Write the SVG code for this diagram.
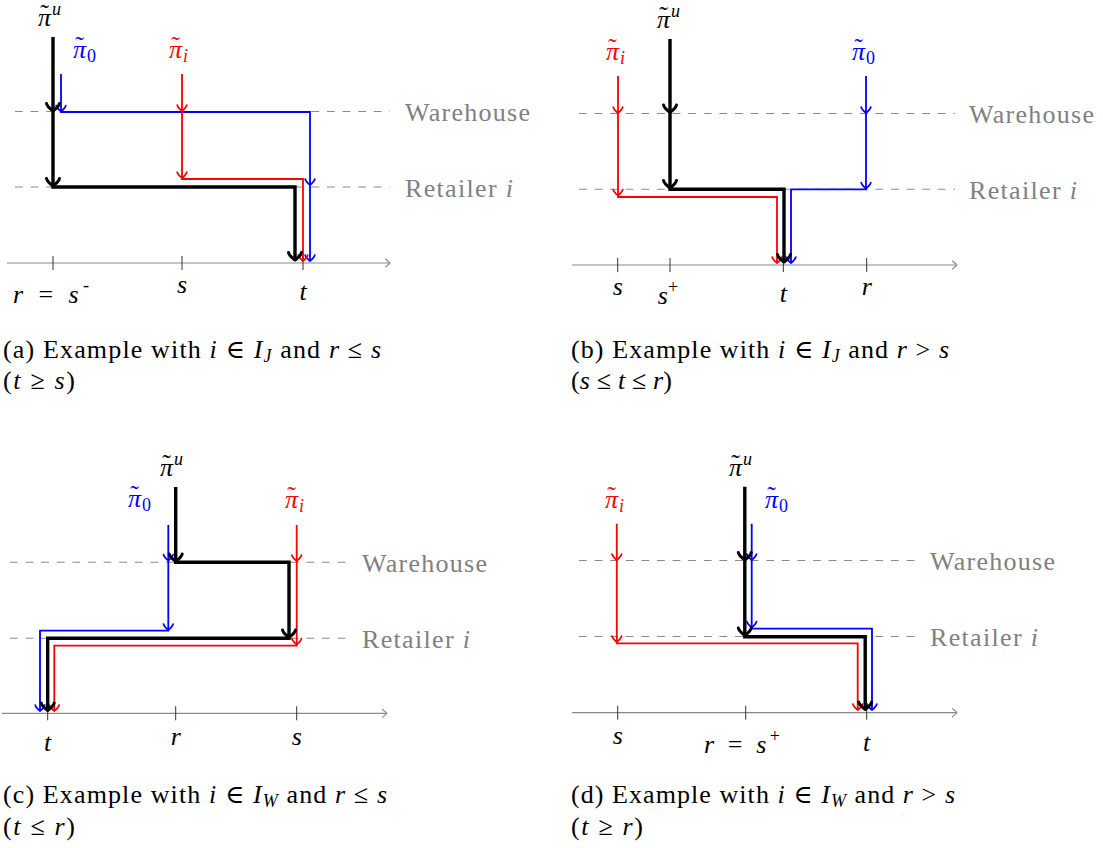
<svg xmlns="http://www.w3.org/2000/svg" width="1103" height="848" viewBox="0 0 1103 848">
<style>
.t{font-family:"Liberation Serif","DejaVu Serif",serif;font-size:26px;fill:#000}
.it{font-style:italic}
.sm{font-size:18px}
.up{font-style:normal}
.g{fill:#808080}
.red{fill:#f00}
.blue{fill:#00f}
.dash{stroke:#8a8a8a;stroke-width:1.1;stroke-dasharray:7.8 7.8;fill:none}
.axis{stroke:#8a8a8a;stroke-width:1.2;fill:none}
.tick{stroke:#333;stroke-width:1;fill:none}
.fk{fill:none;stroke:#000;stroke-width:3.4;stroke-linejoin:miter}
.fr{fill:none;stroke:#f00;stroke-width:1.8;stroke-linejoin:miter}
.fb{fill:none;stroke:#00f;stroke-width:1.8;stroke-linejoin:miter}
.ak{fill:none;stroke:#000;stroke-width:3;stroke-linecap:round;stroke-linejoin:round}
.ar{fill:none;stroke:#f00;stroke-width:1.7;stroke-linecap:round;stroke-linejoin:round}
.ab{fill:none;stroke:#00f;stroke-width:1.7;stroke-linecap:round;stroke-linejoin:round}
.aa{fill:none;stroke:#8a8a8a;stroke-width:1.1;stroke-linecap:round;stroke-linejoin:round}
</style>
<defs>
<path id="hk" d="M-6.5,-7.5 C-6,-4.5 -2,-1.5 0,0 C2,-1.5 6,-4.5 6.5,-7.5"/>
<path id="hc" d="M-4.8,-6 C-4.3,-3.6 -1.5,-1.2 0,0 C1.5,-1.2 4.3,-3.6 4.8,-6"/>
<path id="ha" d="M-4.5,-4 C-3.7,-3.5 -1.2,-1 0,0 C-1.2,1 -3.7,3.5 -4.5,4"/>
</defs>

<!-- ===================== Panel (a) ===================== -->
<g id="panel-a">
  <g id="a-warehouse">
    <line class="dash" x1="15" y1="111.5" x2="390" y2="111.5"/>
    <text class="t g" x="405" y="121" textLength="125" lengthAdjust="spacing">Warehouse</text>
  </g>
  <g id="a-retailer">
    <line class="dash" x1="15" y1="187" x2="390" y2="187"/>
    <text class="t g" x="405" y="196.5" textLength="108" lengthAdjust="spacing">Retailer <tspan class="it">i</tspan></text>
  </g>
  <g id="a-axis">
    <line class="axis" x1="7" y1="263" x2="389.5" y2="263"/>
    <use href="#ha" x="390" y="263" class="aa"/>
    <line class="tick" x1="53" y1="256" x2="53" y2="270"/>
    <line class="tick" x1="182" y1="256" x2="182" y2="270"/>
    <line class="tick" x1="303" y1="256" x2="303" y2="270"/>
    <text class="t" x="13" y="303" textLength="76" lengthAdjust="spacing"><tspan class="it">r</tspan> = <tspan class="it">s</tspan><tspan class="sm" dy="-12">-</tspan></text>
    <text class="t it" x="182" y="293" text-anchor="middle">s</text>
    <text class="t it" x="303" y="300" text-anchor="middle">t</text>
  </g>
  <g id="a-connectors">
    <path class="fb" d="M61,74 V112 H310 V261"/>
    <use href="#hc" x="61" y="111.5" class="ab"/>
    <use href="#hc" x="310" y="185" class="ab"/>
    <use href="#hc" x="310" y="261" class="ab"/>
    <path class="fr" d="M182,74 V179 H303 V261"/>
    <use href="#hc" x="182" y="111" class="ar"/>
    <use href="#hc" x="182" y="178" class="ar"/>
    <use href="#hc" x="303" y="261" class="ar"/>
    <path class="fk" d="M53,37 V187 H295 V261"/>
    <use href="#hk" x="53" y="111" class="ak"/>
    <use href="#hk" x="53" y="186" class="ak"/>
    <use href="#hk" x="295" y="260" class="ak"/>
  </g>
  <g id="a-pi-u"><text class="t it" x="38" y="26">π<tspan class="up" dx="-10.8" dy="-4">˜</tspan><tspan class="sm" dx="3" dy="-7">u</tspan></text></g>
  <g id="a-pi-0"><text class="t it blue" x="73" y="58">π<tspan class="up" dx="-10.8" dy="-4">˜</tspan><tspan class="sm up" dx="3" dy="8">0</tspan></text></g>
  <g id="a-pi-i"><text class="t it red" x="169" y="58">π<tspan class="up" dx="-10.8" dy="-4">˜</tspan><tspan class="sm" dx="3" dy="8">i</tspan></text></g>
  <g id="a-caption">
    <text class="t" x="3" y="358" textLength="378" lengthAdjust="spacing">(a) Example with <tspan class="it">i</tspan> ∈ <tspan class="it">I</tspan><tspan class="it sm" dy="4">J</tspan><tspan dy="-4"> and </tspan><tspan class="it">r</tspan> ≤ <tspan class="it">s</tspan></text>
    <text class="t" x="3" y="389" textLength="72" lengthAdjust="spacing">(<tspan class="it">t</tspan> ≥ <tspan class="it">s</tspan>)</text>
  </g>
</g>

<!-- ===================== Panel (b) ===================== -->
<g id="panel-b">
  <g id="b-warehouse">
    <line class="dash" x1="579" y1="113.5" x2="955" y2="113.5"/>
    <text class="t g" x="969" y="123" textLength="125" lengthAdjust="spacing">Warehouse</text>
  </g>
  <g id="b-retailer">
    <line class="dash" x1="579" y1="189.3" x2="955" y2="189.3"/>
    <text class="t g" x="969" y="198.8" textLength="108" lengthAdjust="spacing">Retailer <tspan class="it">i</tspan></text>
  </g>
  <g id="b-axis">
    <line class="axis" x1="572" y1="265" x2="956.5" y2="265"/>
    <use href="#ha" x="957" y="265" class="aa"/>
    <line class="tick" x1="617.7" y1="258" x2="617.7" y2="272"/>
    <line class="tick" x1="670" y1="258" x2="670" y2="272"/>
    <line class="tick" x1="783.3" y1="258" x2="783.3" y2="272"/>
    <line class="tick" x1="866.7" y1="258" x2="866.7" y2="272"/>
    <text class="t it" x="617.7" y="295" text-anchor="middle">s</text>
    <text class="t" x="668" y="304" text-anchor="middle"><tspan class="it">s</tspan><tspan class="sm" dy="-11">+</tspan></text>
    <text class="t it" x="783.3" y="302" text-anchor="middle">t</text>
    <text class="t it" x="866.7" y="295" text-anchor="middle">r</text>
  </g>
  <g id="b-connectors">
    <path class="fr" d="M618,76 V197 H777 V263"/>
    <use href="#hc" x="618" y="113" class="ar"/>
    <use href="#hc" x="618" y="195.5" class="ar"/>
    <use href="#hc" x="777" y="263" class="ar"/>
    <path class="fb" d="M866,76 V189.3 H791 V263"/>
    <use href="#hc" x="866" y="113" class="ab"/>
    <use href="#hc" x="866" y="188.5" class="ab"/>
    <use href="#hc" x="791" y="263" class="ab"/>
    <path class="fk" d="M670,39 V189.3 H784 V263"/>
    <use href="#hk" x="670" y="112.5" class="ak"/>
    <use href="#hk" x="670" y="188" class="ak"/>
    <use href="#hk" x="784" y="262" class="ak"/>
  </g>
  <g id="b-pi-u"><text class="t it" x="657" y="28">π<tspan class="up" dx="-10.8" dy="-4">˜</tspan><tspan class="sm" dx="3" dy="-7">u</tspan></text></g>
  <g id="b-pi-i"><text class="t it red" x="606" y="60">π<tspan class="up" dx="-10.8" dy="-4">˜</tspan><tspan class="sm" dx="3" dy="8">i</tspan></text></g>
  <g id="b-pi-0"><text class="t it blue" x="852" y="60">π<tspan class="up" dx="-10.8" dy="-4">˜</tspan><tspan class="sm up" dx="3" dy="8">0</tspan></text></g>
  <g id="b-caption">
    <text class="t" x="571" y="358" textLength="378" lengthAdjust="spacing">(b) Example with <tspan class="it">i</tspan> ∈ <tspan class="it">I</tspan><tspan class="it sm" dy="4">J</tspan><tspan dy="-4"> and </tspan><tspan class="it">r</tspan> &gt; <tspan class="it">s</tspan></text>
    <text class="t" x="571" y="389" textLength="101" lengthAdjust="spacing">(<tspan class="it">s</tspan> ≤ <tspan class="it">t</tspan> ≤ <tspan class="it">r</tspan>)</text>
  </g>
</g>

<!-- ===================== Panel (c) ===================== -->
<g id="panel-c">
  <g id="c-warehouse">
    <line class="dash" x1="10" y1="562.3" x2="350" y2="562.3"/>
    <text class="t g" x="362" y="571.8" textLength="125" lengthAdjust="spacing">Warehouse</text>
  </g>
  <g id="c-retailer">
    <line class="dash" x1="10" y1="638.3" x2="350" y2="638.3"/>
    <text class="t g" x="362" y="647.8" textLength="108" lengthAdjust="spacing">Retailer <tspan class="it">i</tspan></text>
  </g>
  <g id="c-axis">
    <line class="axis" x1="2" y1="713.3" x2="386.5" y2="713.3"/>
    <use href="#ha" x="387" y="713.3" class="aa"/>
    <line class="tick" x1="47.7" y1="706.3" x2="47.7" y2="720.3"/>
    <line class="tick" x1="175.7" y1="706.3" x2="175.7" y2="720.3"/>
    <line class="tick" x1="296.7" y1="706.3" x2="296.7" y2="720.3"/>
    <text class="t it" x="47.7" y="751" text-anchor="middle">t</text>
    <text class="t it" x="175.7" y="744.5" text-anchor="middle">r</text>
    <text class="t it" x="296.7" y="744.5" text-anchor="middle">s</text>
  </g>
  <g id="c-connectors">
    <path class="fb" d="M168.3,525 V630.7 H40 V711"/>
    <use href="#hc" x="168.3" y="560.5" class="ab"/>
    <use href="#hc" x="168.3" y="630" class="ab"/>
    <use href="#hc" x="40" y="711" class="ab"/>
    <path class="fr" d="M296.7,525 V645.7 H54.3 V711"/>
    <use href="#hc" x="296.7" y="561" class="ar"/>
    <use href="#hc" x="296.7" y="644.5" class="ar"/>
    <use href="#hc" x="54.3" y="711" class="ar"/>
    <path class="fk" d="M175.7,487 V562.3 H289 V638.3 H47.7 V711"/>
    <use href="#hk" x="175.7" y="561.5" class="ak"/>
    <use href="#hk" x="289" y="637.5" class="ak"/>
    <use href="#hk" x="47.7" y="710.5" class="ak"/>
  </g>
  <g id="c-pi-u"><text class="t it" x="160" y="476">π<tspan class="up" dx="-10.8" dy="-4">˜</tspan><tspan class="sm" dx="3" dy="-7">u</tspan></text></g>
  <g id="c-pi-0"><text class="t it blue" x="128" y="507">π<tspan class="up" dx="-10.8" dy="-4">˜</tspan><tspan class="sm up" dx="3" dy="8">0</tspan></text></g>
  <g id="c-pi-i"><text class="t it red" x="285" y="508">π<tspan class="up" dx="-10.8" dy="-4">˜</tspan><tspan class="sm" dx="3" dy="8">i</tspan></text></g>
  <g id="c-caption">
    <text class="t" x="3" y="803" textLength="384" lengthAdjust="spacing">(c) Example with <tspan class="it">i</tspan> ∈ <tspan class="it">I</tspan><tspan class="it sm" dy="4">W</tspan><tspan dy="-4"> and </tspan><tspan class="it">r</tspan> ≤ <tspan class="it">s</tspan></text>
    <text class="t" x="3" y="835" textLength="72" lengthAdjust="spacing">(<tspan class="it">t</tspan> ≤ <tspan class="it">r</tspan>)</text>
  </g>
</g>

<!-- ===================== Panel (d) ===================== -->
<g id="panel-d">
  <g id="d-warehouse">
    <line class="dash" x1="579" y1="560.5" x2="918" y2="560.5"/>
    <text class="t g" x="930" y="570" textLength="125" lengthAdjust="spacing">Warehouse</text>
  </g>
  <g id="d-retailer">
    <line class="dash" x1="579" y1="636.5" x2="918" y2="636.5"/>
    <text class="t g" x="930" y="646" textLength="108" lengthAdjust="spacing">Retailer <tspan class="it">i</tspan></text>
  </g>
  <g id="d-axis">
    <line class="axis" x1="572" y1="712.7" x2="956.5" y2="712.7"/>
    <use href="#ha" x="957" y="712.7" class="aa"/>
    <line class="tick" x1="617.7" y1="705.7" x2="617.7" y2="719.7"/>
    <line class="tick" x1="745.7" y1="705.7" x2="745.7" y2="719.7"/>
    <line class="tick" x1="866.7" y1="705.7" x2="866.7" y2="719.7"/>
    <text class="t it" x="617.7" y="744" text-anchor="middle">s</text>
    <text class="t" x="704" y="753" textLength="76" lengthAdjust="spacing"><tspan class="it">r</tspan> = <tspan class="it">s</tspan><tspan class="sm" dy="-11">+</tspan></text>
    <text class="t it" x="866.7" y="750.5" text-anchor="middle">t</text>
  </g>
  <g id="d-connectors">
    <path class="fr" d="M616.8,523.7 V643.3 H857.7 V710"/>
    <use href="#hc" x="616.8" y="560" class="ar"/>
    <use href="#hc" x="616.8" y="642" class="ar"/>
    <use href="#hc" x="857.7" y="710" class="ar"/>
    <path class="fb" d="M751.7,523.7 V628.7 H872 V710"/>
    <use href="#hc" x="751.7" y="560" class="ab"/>
    <use href="#hc" x="751.7" y="627.5" class="ab"/>
    <use href="#hc" x="872" y="710" class="ab"/>
    <path class="fk" d="M744.8,486.7 V636.7 H865.2 V710"/>
    <use href="#hk" x="744.8" y="560" class="ak"/>
    <use href="#hk" x="744.8" y="635.5" class="ak"/>
    <use href="#hk" x="865.2" y="709.5" class="ak"/>
  </g>
  <g id="d-pi-u"><text class="t it" x="729" y="476">π<tspan class="up" dx="-10.8" dy="-4">˜</tspan><tspan class="sm" dx="3" dy="-7">u</tspan></text></g>
  <g id="d-pi-i"><text class="t it red" x="605" y="508">π<tspan class="up" dx="-10.8" dy="-4">˜</tspan><tspan class="sm" dx="3" dy="8">i</tspan></text></g>
  <g id="d-pi-0"><text class="t it blue" x="765" y="508">π<tspan class="up" dx="-10.8" dy="-4">˜</tspan><tspan class="sm up" dx="3" dy="8">0</tspan></text></g>
  <g id="d-caption">
    <text class="t" x="571" y="803" textLength="384" lengthAdjust="spacing">(d) Example with <tspan class="it">i</tspan> ∈ <tspan class="it">I</tspan><tspan class="it sm" dy="4">W</tspan><tspan dy="-4"> and </tspan><tspan class="it">r</tspan> &gt; <tspan class="it">s</tspan></text>
    <text class="t" x="571" y="835" textLength="72" lengthAdjust="spacing">(<tspan class="it">t</tspan> ≥ <tspan class="it">r</tspan>)</text>
  </g>
</g>
</svg>
